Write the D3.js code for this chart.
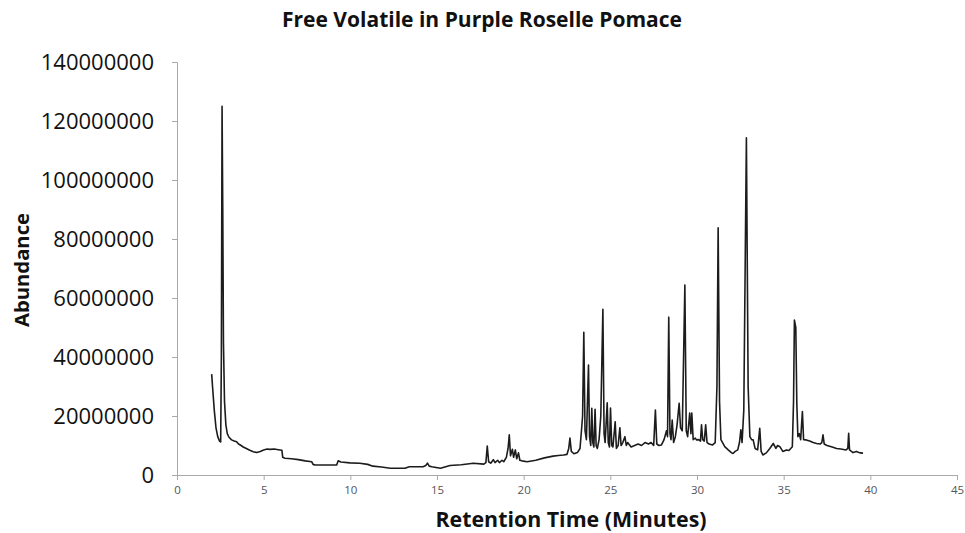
<!DOCTYPE html>
<html>
<head>
<meta charset="utf-8">
<script src="https://cdn.jsdelivr.net/npm/d3@7/dist/d3.min.js"></script>
<style>
  html, body { margin: 0; padding: 0; background: #fff; }
  svg { display: block; }
  text { font-family: "Open Sans", "DejaVu Sans", sans-serif; }
</style>
</head>
<body>
<svg id="chart" width="965" height="533"></svg>
<script>
// ---- data ----
const chartTitle = "Free Volatile in Purple Roselle Pomace";
const xAxisTitle = "Retention Time (Minutes)";
const yAxisTitle = "Abundance";
const xTickValues = [0, 5, 10, 15, 20, 25, 30, 35, 40, 45];
const yTickValues = [0, 20000000, 40000000, 60000000, 80000000, 100000000, 120000000, 140000000];

// retention time (minutes)
const retentionTime = [
  2.00, 2.05, 2.15, 2.25, 2.35, 2.45, 2.52, 2.56, 2.60, 2.64, 2.68, 2.74, 2.82, 2.90, 3.00, 3.15, 3.30, 3.44, 3.55, 3.70,
  3.82, 4.00, 4.20, 4.40, 4.60, 4.80, 5.00, 5.20, 5.36, 5.60, 5.94, 6.05, 6.10, 6.23, 6.60, 7.00, 7.40, 7.77, 7.85, 7.96,
  8.50, 9.00, 9.21, 9.30, 9.45, 9.98, 10.55, 11.00, 11.30, 11.80, 12.30, 13.15, 13.40, 14.20, 14.35, 14.45, 14.55, 14.70, 15.20, 15.75,
  16.40, 17.10, 17.70, 17.82, 17.90, 17.98, 18.10, 18.25, 18.35, 18.50, 18.60, 18.75, 18.85, 19.00, 19.10, 19.17, 19.24, 19.35, 19.42, 19.52,
  19.60, 19.70, 19.78, 19.90, 20.20, 20.70, 21.20, 21.70, 22.00, 22.30, 22.50, 22.60, 22.67, 22.75, 22.90, 23.10, 23.25, 23.32, 23.40, 23.47,
  23.54, 23.62, 23.74, 23.80, 23.87, 23.93, 23.99, 24.05, 24.12, 24.18, 24.25, 24.35, 24.45, 24.57, 24.64, 24.70, 24.82, 24.88, 24.95, 25.01,
  25.08, 25.15, 25.28, 25.35, 25.45, 25.55, 25.62, 25.72, 25.84, 25.92, 26.00, 26.20, 26.40, 26.60, 26.80, 27.00, 27.20, 27.35, 27.50, 27.60,
  27.68, 27.80, 27.95, 28.10, 28.24, 28.30, 28.37, 28.44, 28.50, 28.57, 28.65, 28.75, 28.85, 28.97, 29.05, 29.15, 29.30, 29.38, 29.46, 29.58,
  29.65, 29.70, 29.78, 29.90, 29.97, 30.10, 30.20, 30.26, 30.33, 30.42, 30.50, 30.58, 30.70, 30.90, 31.05, 31.15, 31.22, 31.30, 31.38, 31.60,
  31.80, 32.00, 32.08, 32.20, 32.35, 32.45, 32.53, 32.60, 32.70, 32.85, 32.95, 33.05, 33.15, 33.24, 33.35, 33.50, 33.62, 33.70, 33.80, 34.00,
  34.20, 34.40, 34.55, 34.65, 34.78, 34.95, 35.16, 35.30, 35.50, 35.57, 35.62, 35.70, 35.76, 35.82, 35.90, 35.98, 36.08, 36.15, 36.30, 36.50,
  36.70, 36.90, 37.10, 37.20, 37.27, 37.34, 37.50, 37.80, 38.05, 38.30, 38.60, 38.70, 38.75, 38.80, 39.00, 39.20, 39.40, 39.58
];

// abundance (millions of counts)
const abundanceMillions = [
  34.2, 30.0, 22.0, 16.0, 13.0, 11.5, 11.2, 40.0, 125.0, 90.0, 45.0, 25.0, 17.0, 14.0, 12.8, 11.9, 11.5, 11.3, 10.5, 10.0,
  9.5, 9.0, 8.4, 7.9, 7.6, 8.0, 8.5, 8.8, 8.7, 8.8, 8.5, 8.4, 6.0, 5.7, 5.5, 5.2, 4.8, 4.5, 3.6, 3.4,
  3.4, 3.4, 3.4, 4.8, 4.4, 4.1, 4.0, 3.6, 3.0, 2.7, 2.3, 2.3, 2.8, 2.8, 3.2, 4.0, 3.0, 2.8, 2.3, 3.2,
  3.5, 4.0, 3.7, 4.2, 9.8, 4.5, 4.0, 5.2, 4.2, 5.0, 4.2, 5.0, 4.5, 6.0, 9.0, 13.6, 6.5, 8.7, 6.0, 8.5,
  5.5, 7.5, 5.0, 4.8, 4.5, 5.0, 5.8, 6.4, 6.6, 6.8, 7.0, 9.0, 12.5, 8.0, 7.2, 7.6, 9.0, 14.0, 20.0, 48.4,
  15.0, 12.0, 37.3, 13.0, 10.0, 22.6, 11.0, 9.5, 22.3, 10.0, 9.0, 12.0, 20.0, 56.2, 14.0, 11.0, 24.5, 11.0, 9.5, 22.7,
  10.0, 9.5, 18.0, 9.0, 10.0, 16.0, 10.0, 11.0, 13.0, 10.0, 11.0, 9.5, 10.0, 10.5, 10.0, 11.0, 10.5, 11.0, 10.0, 22.0,
  10.5, 10.0, 10.2, 12.0, 15.0, 13.0, 53.5, 14.0, 12.0, 18.6, 11.0, 13.0, 17.0, 24.3, 16.0, 15.0, 64.4, 15.0, 13.0, 21.0,
  14.0, 21.0, 12.0, 12.5, 11.9, 12.0, 11.5, 17.0, 12.0, 11.5, 17.0, 11.0, 10.5, 10.2, 11.0, 30.0, 83.8, 25.0, 12.0, 9.6,
  8.5, 7.5, 7.3, 8.0, 8.5, 11.0, 15.3, 11.0, 22.0, 114.3, 30.0, 13.0, 12.0, 11.9, 9.0, 8.5, 15.8, 8.0, 6.8, 7.5,
  9.0, 10.7, 9.0, 10.0, 9.6, 8.0, 8.5, 8.3, 9.6, 25.0, 52.5, 50.0, 24.0, 13.0, 14.0, 12.0, 21.5, 12.0, 11.9, 11.5,
  11.0, 10.7, 10.5, 11.0, 13.6, 10.5, 10.0, 9.5, 9.0, 8.8, 8.5, 9.0, 14.1, 8.5, 7.6, 8.0, 7.5, 7.4
];

// ---- chart ----
const svg = d3.select("#chart");
const plot = { left: 177, right: 957, top: 62, bottom: 475 };

const x = d3.scaleLinear().domain([0, 45]).range([plot.left, plot.right]);
const y = d3.scaleLinear().domain([0, 140000000]).range([plot.bottom, plot.top]);

const points = retentionTime.map((t, i) => [t, abundanceMillions[i] * 1e6]);

const axisColor = "#a9a9a9";

// Y axis
const yAxis = svg.append("g")
  .attr("transform", `translate(${plot.left},0)`)
  .call(d3.axisLeft(y).tickValues(yTickValues).tickSize(5).tickPadding(18).tickFormat(d3.format("d")));
yAxis.selectAll("path, line").attr("stroke", axisColor);
yAxis.selectAll("text")
  .attr("font-size", "22px")
  .attr("fill", "#111")
  .style("font-family", '"Open Sans", sans-serif');

// X axis
const xAxis = svg.append("g")
  .attr("transform", `translate(0,${plot.bottom})`)
  .call(d3.axisBottom(x).tickValues(xTickValues).tickSize(5).tickPadding(6).tickFormat(d3.format("d")));
xAxis.selectAll("path, line").attr("stroke", axisColor);
xAxis.selectAll("text")
  .attr("font-size", "11.5px")
  .attr("fill", "#555")
  .style("font-family", '"Open Sans", sans-serif');

// trace
const line = d3.line().x(d => x(d[0])).y(d => y(d[1]));
svg.append("path")
  .datum(points)
  .attr("fill", "none")
  .attr("stroke", "#1c1c1c")
  .attr("stroke-width", 1.6)
  .attr("stroke-linejoin", "round")
  .attr("d", line);

// titles
function fit(sel, width) {
  const fs = parseFloat(sel.attr("font-size"));
  const len = sel.node().getComputedTextLength();
  sel.attr("font-size", (fs * width / len).toFixed(2) + "px");
}

const title = svg.append("text")
  .attr("x", 482).attr("y", 27)
  .attr("text-anchor", "middle")
  .attr("font-size", "17px")
  .attr("font-weight", "bold")
  .attr("fill", "#111")
  .text(chartTitle);
fit(title, 400);

const xt = svg.append("text")
  .attr("x", 571).attr("y", 527)
  .attr("text-anchor", "middle")
  .attr("font-size", "19px")
  .attr("font-weight", "bold")
  .attr("fill", "#111")
  .text(xAxisTitle);
fit(xt, 271);

const yt = svg.append("text")
  .attr("transform", "translate(29,270) rotate(-90)")
  .attr("text-anchor", "middle")
  .attr("font-size", "18px")
  .attr("font-weight", "bold")
  .attr("fill", "#111")
  .text(yAxisTitle);
fit(yt, 114);
</script>
</body>
</html>
